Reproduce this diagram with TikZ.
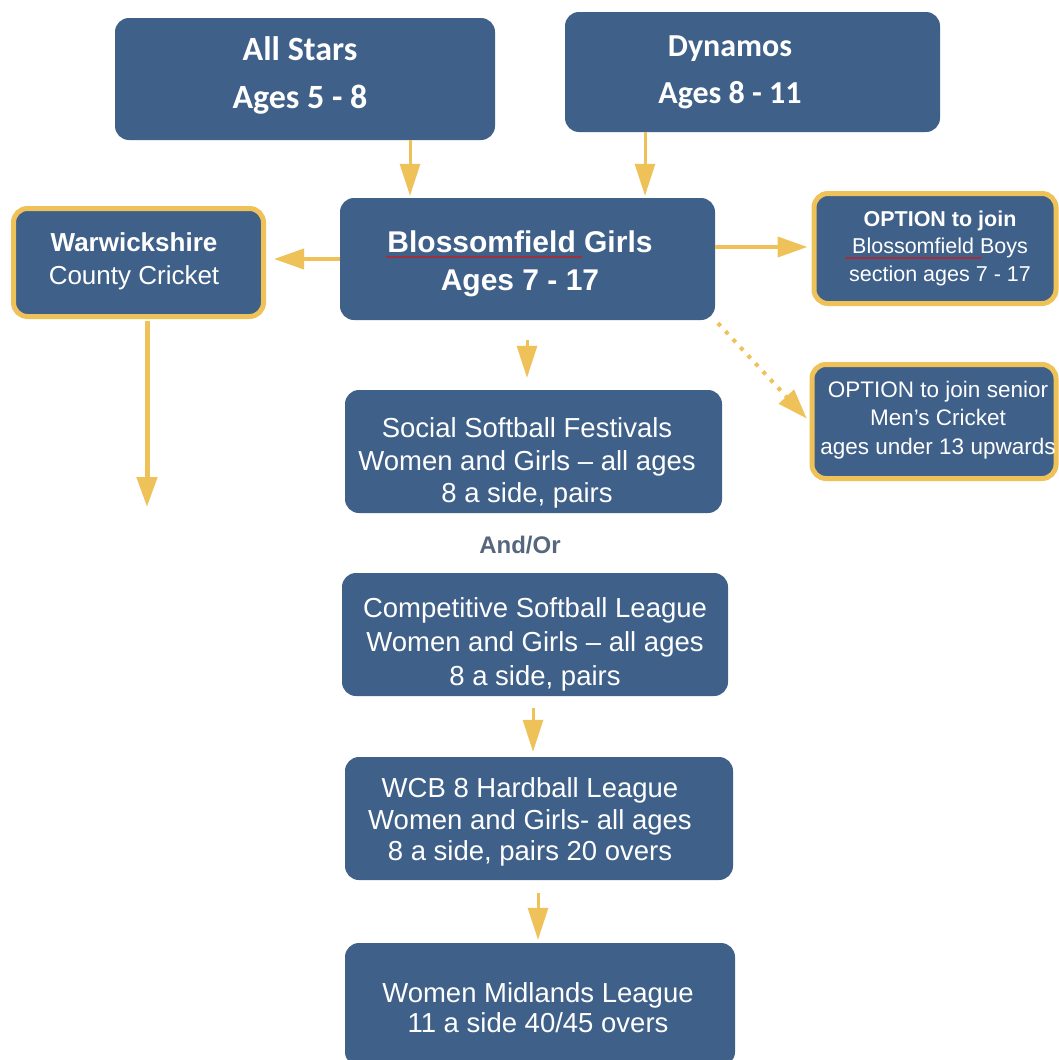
\documentclass[tikz,border=0pt]{standalone}
\usepackage{fontspec}
\setmainfont{Liberation Sans}
\newfontfamily\topfont{Carlito}
\usetikzlibrary{arrows.meta}
\definecolor{boxblue}{HTML}{3E6089}
\definecolor{gold}{HTML}{EEC258}
\definecolor{andor}{HTML}{56677D}
\definecolor{squig}{HTML}{A0303C}
\begin{document}
\begin{tikzpicture}[x=1pt,y=-1pt,
 box/.style={fill=boxblue, rounded corners=14pt, inner sep=0pt},
 goldbox/.style={box, draw=gold, line width=5pt},
 txt/.style={text=white, align=center, inner sep=0pt},
 arr/.style={draw=gold, line width=4pt, -{Triangle[width=20pt,length=30pt]}},
 thinarr/.style={arr, line width=3pt, -{Triangle[width=20pt,length=32pt]}},
]
\useasboundingbox (0,0) rectangle (1059,1060);

% boxes
\node[box, minimum width=380pt, minimum height=122pt] (allstars) at (305,79) {};
\node[box, minimum width=375pt, minimum height=120pt] (dynamos) at (752.5,72) {};
\node[box, minimum width=375pt, minimum height=122pt] (girls) at (527.5,259) {};
\node[goldbox, minimum width=250pt, minimum height=108pt] (warw) at (138.5,262.5) {};
\node[goldbox, minimum width=242pt, minimum height=110pt] (boys) at (935,248.5) {};
\node[goldbox, minimum width=244pt, minimum height=114pt] (senior) at (934,421.5) {};
\node[box, minimum width=377pt, minimum height=123pt] (social) at (533.5,451.5) {};
\node[box, minimum width=386pt, minimum height=123pt] (comp) at (535,634.5) {};
\node[box, minimum width=388pt, minimum height=123pt] (wcb) at (539,818.5) {};
\node[box, minimum width=390pt, minimum height=123pt] (mid) at (540,1004.5) {};

% texts
\node[txt, font=\topfont\bfseries\fontsize{34}{48}\selectfont] (allstarst) at (300,75) {All Stars\\Ages 5 - 8};
\node[txt, font=\topfont\bfseries\fontsize{32}{47}\selectfont] (dynamost) at (730,72) {Dynamos\\Ages 8 - 11};
\node[txt, font=\bfseries\fontsize{30}{38}\selectfont] (girlst) at (520,264) {Blossomfield Girls\\Ages 7 - 17};
\node[txt, font=\fontsize{26}{33}\selectfont] (warwt) at (134,261) {\textbf{Warwickshire}\\County Cricket};
\node[txt, font=\fontsize{21.5}{27.5}\selectfont] (boyst) at (940,248) {\textbf{OPTION to join}\\Blossomfield Boys\\section ages 7 - 17};
\node[txt, font=\fontsize{22.5}{28.5}\selectfont] (seniort) at (938,420) {OPTION to join senior\\Men's Cricket\\ages under 13 upwards};
\node[txt, font=\fontsize{27.5}{32.5}\selectfont] (socialt) at (527,463) {Social Softball Festivals\\Women and Girls -- all ages\\8 a side, pairs};
\node[font=\bfseries\fontsize{24}{26}\selectfont, text=andor, inner sep=0pt] (andor) at (520,545) {And/Or};
\node[txt, font=\fontsize{27.5}{34}\selectfont] (compt) at (535,644) {Competitive Softball League\\Women and Girls -- all ages\\8 a side, pairs};
\node[txt, font=\fontsize{27.5}{31.5}\selectfont] (wcbt) at (530,822) {WCB 8 Hardball League\\Women and Girls- all ages\\8 a side, pairs 20 overs};
\node[txt, font=\fontsize{27.5}{30}\selectfont] (midt) at (538,1008) {Women Midlands League\\11 a side 40/45 overs};

% spell-check underlines
\draw[squig, line width=1.5pt] (386,257) -- (582,257);
\draw[squig, line width=1.2pt] (845,258) -- (982,258);

% helper coordinates
\coordinate (xa) at (410,0);
\coordinate (xd) at (645,0);
\coordinate (yb) at (0,247);
\coordinate (xs) at (527,0);
\coordinate (xc) at (533,0);
\coordinate (xw) at (538,0);
\coordinate (warwend) at (147,507);

% connectors
\draw[thinarr, shorten >=2pt] (allstars.south -| xa) -- (girls.north -| xa);
\draw[thinarr, shorten >=2pt] (dynamos.south -| xd) -- (girls.north -| xd);
\draw[arr, shorten >=8pt] (girls.west) -- (girls.west -| warw.east);
\draw[arr, shorten >=4pt] (girls.east |- yb) -- (boys.west |- yb);
\draw[arr, dash pattern=on 4pt off 7pt, shorten <=4pt, shorten >=4pt] (girls.south east) -- (senior.west);
\draw[thinarr, shorten <=20pt, shorten >=12pt] (girls.south -| xs) -- (social.north -| xs);
\draw[thinarr, shorten <=12pt, shorten >=5pt] (comp.south -| xc) -- (wcb.north -| xc);
\draw[thinarr, shorten <=13pt, shorten >=3pt] (wcb.south -| xw) -- (mid.north -| xw);
\draw[arr, line width=5pt, shorten <=2pt] (warw.south -| warwend) -- (warwend);
\end{tikzpicture}
\end{document}
